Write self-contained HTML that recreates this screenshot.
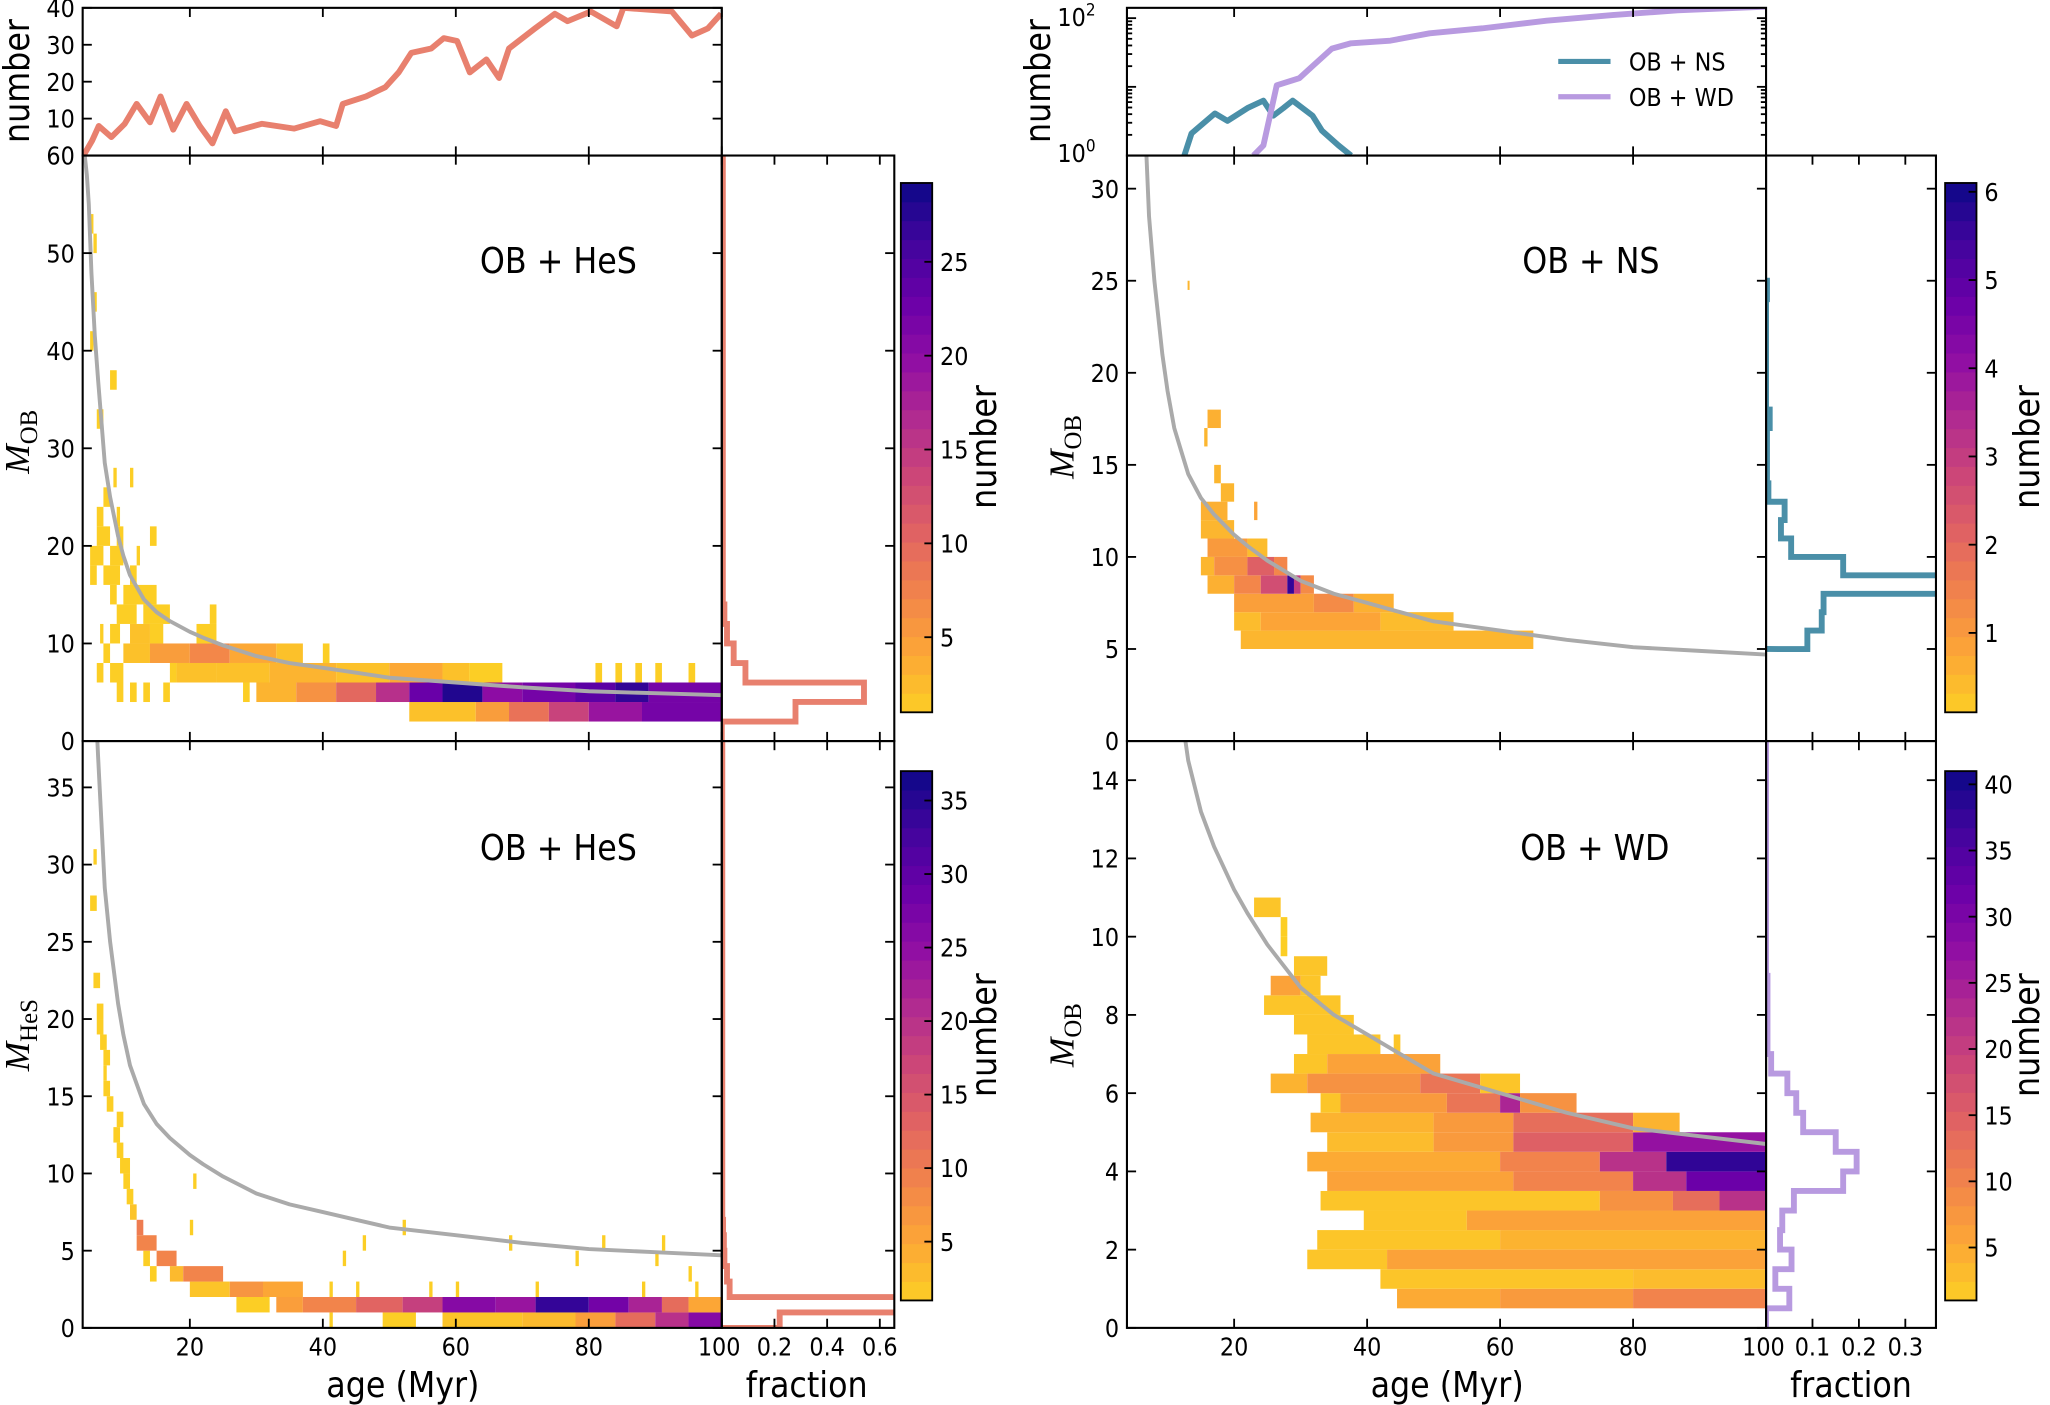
<!DOCTYPE html>
<html><head><meta charset="utf-8"><style>
html,body{margin:0;padding:0;background:#fff;}
svg{display:block;}
text{font-family:"DejaVu Sans Condensed","DejaVu Sans","Liberation Sans",sans-serif;fill:#000;}
.ser{font-family:"Liberation Serif","DejaVu Serif",serif;font-style:italic;}
</style></head><body>
<svg id="fig" width="2050" height="1405" viewBox="0 0 1568 1075" xmlns="http://www.w3.org/2000/svg">
<defs>
<clipPath id="cTL"><rect x="63" y="119" width="489" height="448"/></clipPath>
<clipPath id="cBL"><rect x="63" y="567" width="489" height="449"/></clipPath>
<clipPath id="cTR"><rect x="862" y="119" width="489" height="448"/></clipPath>
<clipPath id="cBR"><rect x="862" y="567" width="489" height="449"/></clipPath>
<clipPath id="cTLt"><rect x="63" y="6" width="489" height="113"/></clipPath>
<clipPath id="cTRt"><rect x="862" y="6" width="489" height="113"/></clipPath>
<clipPath id="hTL"><rect x="552" y="119" width="132" height="448"/></clipPath>
<clipPath id="hBL"><rect x="552" y="567" width="132" height="449"/></clipPath>
<clipPath id="hTR"><rect x="1351" y="119" width="130" height="448"/></clipPath>
<clipPath id="hBR"><rect x="1351" y="567" width="130" height="449"/></clipPath>
</defs>
<g id="layer"></g>
</svg>
<script>
// ---------- data ----------
const hesAges = [4,5.3,6.3,8.2,10.2,12,14,15.6,17.5,19.5,21.5,23.4,25.4,26.8,30.8,35.7,39.6,42,43,46.5,49.4,51.4,53.3,56.3,58.2,60.2,62.1,64.6,66.5,68,71.9,74.9,76.8,80.3,84.2,85.2,92.5,95.5,97.9,99.9];
const hesCounts = [0,4,8,5,8.6,14,9,16,7,14,8,3.3,12,6.6,8.6,7.3,9.3,8,14,16,18.5,22.5,27.8,29,31.8,31,22.5,26,21,29,34.4,38.4,36.4,39,35,40,39,32.5,34.4,38.4];
const nsAges = [12.5,13.6,17.1,19.0,22.0,24.4,25.9,27.4,28.8,31.8,33.2,35.7,37.6];
const nsCounts = [1,2.1,4.1,3.2,4.9,6.3,3.8,4.9,6.3,3.8,2.3,1.4,1];
const wdAges = [22.9,24.4,26.4,29.8,31.8,34.7,37.6,43.5,49.4,57.3,67,76.9,86.7,99.9];
const wdCounts = [1,1.4,10.5,13.4,20,36,43,47,60,71,92,111,130,147];
const curveAges = [4.2,4.5,4.8,5.2,5.7,6.2,7.2,8,9.2,10,11,12,13.1,15,17,20,22,25,30,35,40,45,50,60,70,80,90,100];
const curveMass = [60,58,55,48,41.5,37,28.5,25,21,19,17,15.8,14.5,13.2,12.3,11.2,10.6,9.8,8.7,8.0,7.5,7.0,6.5,6.0,5.5,5.1,4.9,4.7];
// heatmap cells: [m0, m1, age0, age1, count]
const tlCells = [[2,4,53,63,2],[2,4,63,68,5],[2,4,68,74,9],[2,4,74,80,14],[2,4,80,88,19],[2,4,88,100,22],
[4,6,9,10,1],[4,6,11,12,1],[4,6,13,14,1],[4,6,16,17,1],[4,6,28,29,1],[4,6,30,36,3],[4,6,36,42,6],[4,6,42,48,10],[4,6,48,53,16],[4,6,53,58,23],[4,6,58,64,28],[4,6,64,70,20],[4,6,70,78,22],[4,6,78,84,24],[4,6,84,89,27],[4,6,89,100,22],
[6,8,6,7,1],[6,8,8,10,1],[6,8,17,18,1],[6,8,18,24,2],[6,8,24,32,2],[6,8,32,42,3],[6,8,42,50,2],[6,8,50,58,4],[6,8,58,62,2],[6,8,62,67,1],[6,8,81,82,1],[6,8,84,85,1],[6,8,87,88,1],[6,8,90,91,1],[6,8,95,96,1],
[8,10,7,8,1],[8,10,10,14,2],[8,10,14,20,5],[8,10,20,26,7],[8,10,26,33,4],[8,10,33,37,2],[8,10,40,41,1],
[10,12,6.5,7,1],[10,12,8,9.5,1],[10,12,11,14,2],[10,12,14,16,1],[10,12,21,24,1],
[12,14,9,12,1],[12,14,13,17,1],[12,14,23,24,1],[14,16,8,9,1],[14,16,10,15,1],
[16,18,5,6,1],[16,18,7,9.5,1],[16,18,11,12,1],[18,20,5,7,1],[18,20,8,10,1],[18,20,12,12.5,1],
[20,22,6,8,1],[20,22,9,10,1],[20,22,14,15,1],[22,24,6,7,1],[22,24,9,9.5,1],
[24,26,7,8,1],[26,28,8.5,9,1],[26,28,11,11.5,1],[32,34,6,7,1],[36,38,8,9,1],[40,42,5,5.5,1],[44,46,5.5,6,1],[50,52,5.5,6,1],[52,54,5,5.5,1]];
const blCells = [[0,1,41,41.5,1],[0,1,49,54,1],[0,1,58,70,2],[0,1,70,78,3],[0,1,78,84,6],[0,1,84,90,12],[0,1,90,95,20],[0,1,95,100,26],
[1,2,27,32,1],[1,2,33,37,6],[1,2,37,45,9],[1,2,45,52,13],[1,2,52,58,18],[1,2,58,66,26],[1,2,66,72,24],[1,2,72,80,34],[1,2,80,86,28],[1,2,86,91,22],[1,2,91,95,12],[1,2,95,100,5],
[2,3,20,26,2],[2,3,26,31,7],[2,3,31,37,5],[2,3,41,41.5,1],[2,3,45,45.5,1],[2,3,56,56.5,1],[2,3,60,60.5,1],[2,3,72,72.5,1],[2,3,88,88.5,1],[2,3,96,96.5,1],
[3,4,14,15,1],[3,4,17,19,3],[3,4,19,25,9],[3,4,95,95.5,1],
[4,5,13,14,1],[4,5,15,18,9],[4,5,43,43.5,1],[4,5,78,78.5,1],[4,5,90,90.5,1],
[5,6,12,15,9],[5,6,46,46.5,1],[5,6,68,68.5,1],[5,6,82,82.5,1],[5,6,91,91.5,1],
[6,7,12,13,10],[6,7,20,20.5,1],[6,7,52,52.5,1],
[7,8,11,12,2],[8,9,10.5,11.5,1],[9,10,10,11,1],[9,10,20.5,21,1],[10,11,9.5,11,1],[11,12,9,10,1],[12,13,8.5,9.5,1],[13,14,9,10,1],[14,15,7.5,8.5,1],[15,16,7,8,1],[16,17,7,7.5,1],[17,18,7,8,1],[18,19,6.5,7.5,1],[19,20,6,7,1],[20,21,6,7,1],[22,23,5.5,6.5,1],[27,28,5,6,1],[30,31,5.5,6,1]];
const trCells = [[5,6,21,65,0.5],[6,7,20,24,0.4],[6,7,24,42,0.8],[6,7,42,53,0.4],
[7,8,20,32,0.9],[7,8,32,38,1.3],[7,8,38,44,0.6],
[8,9,16,20,0.6],[8,9,20,24,1.4],[8,9,24,28,2.6],[8,9,28,29,5.6],[8,9,29,30,3],[8,9,30,32,1.3],
[9,10,15,17,0.5],[9,10,17,22,1.2],[9,10,22,26,2.2],[9,10,26,28,1.4],
[10,11,16,22,1.0],[10,11,22,25,0.4],[11,12,15,20,0.5],[12,13,15,19,0.6],[12,13,23,23.5,0.8],[13,14,18,20,0.5],[14,15,17,18,0.5],[16,17,15.5,16,0.5],[17,18,16,18,0.6],[24.5,25,13,13.3,0.5]];
const brCells = [[0.5,1,44.5,60,5],[0.5,1,60,80,7],[0.5,1,80,100,10],
[1,1.5,42,80,2],[1,1.5,80,100,3],
[1.5,2,31,43,2],[1.5,2,43,100,6],
[2,2.5,32.5,60,2],[2,2.5,60,100,4],
[2.5,3,39.5,55,2],[2.5,3,55,100,6],
[3,3.5,33,75,2],[3,3.5,75,86,8],[3,3.5,86,93,13],[3,3.5,93,100,22],
[3.5,4,34,62,6],[3.5,4,62,80,10],[3.5,4,80,88,22],[3.5,4,88,100,32],
[4,4.5,31,60,5],[4,4.5,60,75,10],[4,4.5,75,85,22],[4,4.5,85,100,38],
[4.5,5,34,50,3],[4.5,5,50,62,7],[4.5,5,62,80,15],[4.5,5,80,100,27],
[5,5.5,31.5,50,4],[5,5.5,50,62,7],[5,5.5,62,80,13],[5,5.5,80,87,4],
[5.5,6,33,36,2],[5.5,6,36,52,7],[5.5,6,52,60,12],[5.5,6,60,63,24],[5.5,6,63,71.5,8],
[6,6.5,25.5,31,4],[6,6.5,31,48,8],[6,6.5,48,57,12],[6,6.5,57,63,2],
[6.5,7,29,34,2],[6.5,7,34,51,6],[7,7.5,31,42,2],[7,7.5,44,45,2],[7.5,8,29,38,2],[8,8.5,24.5,36,2],[8.5,9,25.5,30,6],[8.5,9,30,33,2],[9,9.5,29,34,2],[9.5,10,27,28,1],[10,10.5,27,28,1],[10.5,11,23,27,2]];
// marginal histograms
const tlHistEdges = [0,2,4,6,8,10,12,14,60];
const tlHistFrac = [0,0.28,0.54,0.09,0.045,0.02,0.01,0.004];
const blHistEdges = [0,1,2,3,4,5,6,7,38];
const blHistFrac = [0.22,0.9,0.03,0.02,0.01,0.008,0.005,0.002];
const trHistEdges = [5,6,7,8,9,10,11,12,13,14,17,18,24,25];
const trHistFrac = [0.089,0.12,0.124,0.4,0.166,0.054,0.032,0.04,0.005,0.002,0.008,0,0.002];
const brHistEdges = [0,0.5,1,1.5,2,2.5,3,3.5,4,4.5,5,5.5,6,6.5,7,9,15];
const brHistFrac = [0,0.05,0.02,0.055,0.03,0.035,0.06,0.166,0.195,0.15,0.08,0.065,0.046,0.011,0.003,0];

// ---------- helpers ----------
const NS='http://www.w3.org/2000/svg';
const L=document.getElementById('layer');
function mk(tag,attrs,parent){const e=document.createElementNS(NS,tag);for(const k in attrs)e.setAttribute(k,attrs[k]);(parent||L).appendChild(e);return e;}
function txt(s,x,y,size,anchor,extra){const e=mk('text',Object.assign({x:x,y:y,'font-size':size,'text-anchor':anchor||'middle'},extra||{}));e.textContent=s;return e;}
const plasma=[[13,8,135],[65,4,157],[106,0,168],[143,13,164],[177,42,144],[204,71,120],[225,100,98],[242,132,75],[252,166,54],[252,206,37]];
function cmap(t){t=Math.max(0,Math.min(1,t));const p=(1-t)*9;const i=Math.min(8,Math.floor(p));const f=p-i;const a=plasma[i],b=plasma[i+1];return 'rgb('+a.map((v,k)=>Math.round(v+(b[k]-v)*f)).join(',')+')';}
const axL={x0:63,x1:552}, axR={x0:862,x1:1351};
function ageX(ax,a){return ax.x0+(a-3.88)*(ax.x1-ax.x0)/(100-3.88);}
function lin(y0,y1,d0,d1){return v=>y0+(v-d0)*(y1-y0)/(d1-d0);}
const tlY=lin(567,119,0,60), blY=lin(1016,567,0,38), trY=lin(567,119,0,31.8), brY=lin(1016,567,0,15);
const tltY=lin(119,6,0,40), trtY=v=>119-(Math.log10(v))*(113/2.15);
const hL=lin(552,684,0,0.655), hR=lin(1351,1481,0,0.366);

function heat(cells,ax,Y,vmin,vmax,clip,name){
  const g=mk('g',{'clip-path':'url(#'+clip+')'});
  
  
  cells.forEach(c=>{const x0=ageX(ax,c[2]),x1=ageX(ax,c[3]);const y0=Y(c[1]),y1=Y(c[0]);
    const r=mk('rect',{x:x0,y:y0,width:Math.max(1.2,x1-x0),height:y1-y0,fill:cmap((c[4]-vmin)/(vmax-vmin))},g);
    
    });
}
function curve(ax,Y,clip){
  let d='';curveAges.forEach((a,i)=>{d+=(i?'L':'M')+ageX(ax,a).toFixed(1)+','+Y(curveMass[i]).toFixed(1);});
  const p=mk('path',{d:d,fill:'none',stroke:'#aaaaaa','stroke-width':3,'clip-path':'url(#'+clip+')','stroke-linejoin':'round'});
  
  
}
function series(ax,xs,ys,Y,color,clip,name){
  let d='';xs.forEach((a,i)=>{d+=(i?'L':'M')+ageX(ax,a).toFixed(1)+','+Y(ys[i]).toFixed(1);});
  const p=mk('path',{d:d,fill:'none',stroke:color,'stroke-width':4.5,'clip-path':'url(#'+clip+')','stroke-linejoin':'round'});
  
  
}
function hist(edges,fr,H,Y,color,clip,name){
  let d='M'+H(0)+','+Y(edges[0]);
  fr.forEach((f,i)=>{d+='L'+H(f).toFixed(1)+','+Y(edges[i]).toFixed(1)+'L'+H(f).toFixed(1)+','+Y(edges[i+1]).toFixed(1);});
  d+='L'+H(0)+','+Y(edges[edges.length-1]);
  const p=mk('path',{d:d,fill:'none',stroke:color,'stroke-width':4.5,'clip-path':'url(#'+clip+')'});
  
  
}
function frame(x,y,w,h,name){const r=mk('rect',{x:x,y:y,width:w,height:h,fill:'none',stroke:'#000','stroke-width':1.6});
  
  }
function tick(x1,y1,x2,y2){mk('line',{x1:x1,y1:y1,x2:x2,y2:y2,stroke:'#000','stroke-width':1.4});}
function yticks(vals,Y,x0,x1,labels,len){vals.forEach((v,i)=>{const y=Y(v);tick(x0,y,x0+len,y);tick(x1,y,x1-len,y);
  if(labels&&labels[i]!==null){const t=txt(labels[i],x0-6,y+7,19,'end');}});}
function xticks(ax,y0,y1,labels){[20,40,60,80,100].forEach(a=>{const x=ageX(ax,a);tick(x,y0,x,y0+7);tick(x,y1,x,y1-7);});
  if(labels)[20,40,60,80,100].forEach(a=>{const t=txt(String(a),ageX(ax,a)-(a===100?2:0),1037,19,'middle');});}
function colorbar(x,y0,y1,vmin,vmax,tickv,name){
  const g=mk('g',{});
  const n=28;for(let i=0;i<n;i++){const h=(y1-y0)/n;mk('rect',{x:x,y:y1-(i+1)*h-0.3,width:24,height:h+0.6,fill:cmap((i+0.5)/n)},g);}
  mk('rect',{x:x,y:y0,width:24,height:y1-y0,fill:'none',stroke:'#000','stroke-width':1.4},g);
  const Y=lin(y1,y0,vmin,vmax);
  tickv.forEach(v=>{const y=Y(v);tick(x+24,y,x+18,y);const t=txt(String(v),x+30,y+7,19,'start');});
}
function rot(s,x,y,size,name,cls){const t=mk('text',{x:0,y:0,'font-size':size,'text-anchor':'middle',transform:'translate('+x+','+y+') rotate(-90)'});if(cls)t.setAttribute('class',cls);t.textContent=s;
  return t;}

// ---------- heatmaps & curves ----------
heat(tlCells,axL,tlY,1,29.2,'cTL','heatmap-ob-hes-mob');
heat(blCells,axL,blY,1,37,'cBL','heatmap-ob-hes-mhes');
heat(trCells,axR,trY,0.1,6.1,'cTR','heatmap-ob-ns');
heat(brCells,axR,brY,1,41,'cBR','heatmap-ob-wd');
curve(axL,tlY,'cTL');curve(axL,blY,'cBL');curve(axR,trY,'cTR');curve(axR,brY,'cBR');
series(axL,hesAges,hesCounts,tltY,'#e8806e','cTLt','ob-hes-number-line');
series(axR,nsAges,nsCounts,trtY,'#4a8fa8','cTRt','ob-ns-number-line');
series(axR,wdAges,wdCounts,trtY,'#b89ae0','cTRt','ob-wd-number-line');
hist(tlHistEdges,tlHistFrac,hL,tlY,'#e8806e','hTL','hist-ob-hes-mob');
hist(blHistEdges,blHistFrac,hL,blY,'#e8806e','hBL','hist-ob-hes-mhes');
hist(trHistEdges,trHistFrac,hR,trY,'#4a8fa8','hTR','hist-ob-ns');
hist(brHistEdges,brHistFrac,hR,brY,'#b89ae0','hBR','hist-ob-wd');

// ---------- frames & ticks ----------
frame(63,6,489,113,'top-left-number-panel');frame(63,119,489,448,'top-left-main-panel');frame(63,567,489,449,'bottom-left-main-panel');
frame(552,119,132,448,'top-left-hist-panel');frame(552,567,132,449,'bottom-left-hist-panel');
frame(862,6,489,113,'top-right-number-panel');frame(862,119,489,448,'top-right-main-panel');frame(862,567,489,449,'bottom-right-main-panel');
frame(1351,119,130,448,'top-right-hist-panel');frame(1351,567,130,449,'bottom-right-hist-panel');
yticks([10,20,30,40],tltY,63,552,['10','20','30','40'],7);
yticks([0,10,20,30,40,50,60],tlY,63,552,['0','10','20','30','40','50','60'],7);
yticks([0,5,10,15,20,25,30,35],blY,63,552,['0','5','10','15','20','25','30','35'],7);
yticks([0,5,10,15,20,25,30],trY,862,1351,['0','5','10','15','20','25','30'],7);
yticks([0,2,4,6,8,10,12,14],brY,862,1351,['0','2','4','6','8','10','12','14'],7);
[0,10,20,30,40,50,60].forEach(v=>{tick(684,tlY(v),677,tlY(v));});
[5,10,15,20,25,30,35].forEach(v=>{tick(684,blY(v),677,blY(v));});
[5,10,15,20,25,30].forEach(v=>{tick(1481,trY(v),1474,trY(v));});
[2,4,6,8,10,12,14].forEach(v=>{tick(1481,brY(v),1474,brY(v));});
// log ticks
[1,10,100].forEach(v=>{tick(862,trtY(v),869,trtY(v));tick(1351,trtY(v),1344,trtY(v));});
[2,3,4,5,6,7,8,9,20,30,40,50,60,70,80,90].forEach(v=>{tick(862,trtY(v),866,trtY(v));tick(1351,trtY(v),1347,trtY(v));});
xticks(axL,6,119,false);xticks(axL,119,567,false);xticks(axL,567,1016,true);
xticks(axR,6,119,false);xticks(axR,119,567,false);xticks(axR,567,1016,true);
[0.2,0.4,0.6].forEach(f=>{const x=hL(f);[119,567].forEach(y=>tick(x,y,x,y+7));[567,1016].forEach(y=>tick(x,y,x,y-7));
  const t=txt(String(f),x,1037,19);});
[0.1,0.2,0.3].forEach(f=>{const x=hR(f);[119,567].forEach(y=>tick(x,y,x,y+7));[567,1016].forEach(y=>tick(x,y,x,y-7));
  const t=txt(String(f),x,1037,19);});
// log labels
[[1,'0',124],[100,'2',20]].forEach(a=>{const t=mk('text',{x:838,y:a[2],'font-size':19,'text-anchor':'end'});t.textContent='10';
  const s=mk('tspan',{dy:-8,'font-size':13},t);s.textContent=a[1];
  });

// ---------- colorbars ----------
colorbar(689,140,545,1,29.2,[5,10,15,20,25],'colorbar-top-left');
colorbar(689,590,995,1,37,[5,10,15,20,25,30,35],'colorbar-bottom-left');
colorbar(1488,140,545,0.1,6.1,[1,2,3,4,5,6],'colorbar-top-right');
colorbar(1488,590,995,1,41,[5,10,15,20,25,30,35,40],'colorbar-bottom-right');

// ---------- labels ----------
rot('number',22,62,27,'top-left-y-label');rot('number',803,62,27,'top-right-y-label');
rot('number',762,342,27,'colorbar-label');rot('number',762,792,27,'colorbar-label');
rot('number',1560,342,27,'colorbar-label');rot('number',1560,792,27,'colorbar-label');
[['OB','tlm',338],['HeS','blm',792]].forEach(a=>{const t=mk('text',{x:0,y:0,'font-size':27,'text-anchor':'middle',transform:'translate(22,'+(a[2])+') rotate(-90)'});t.setAttribute('class','ser');
  t.textContent='M';const s=mk('tspan',{dy:6,'font-size':19,'font-style':'normal'},t);s.textContent=a[0];
  });
[['OB',342],['OB',792]].forEach(a=>{const t=mk('text',{x:0,y:0,'font-size':27,'text-anchor':'middle',transform:'translate(821,'+a[1]+') rotate(-90)'});t.setAttribute('class','ser');
  t.textContent='M';const s=mk('tspan',{dy:6,'font-size':19,'font-style':'normal'},t);s.textContent=a[0];
  });
[['OB + HeS',427,209],['OB + HeS',427,658],['OB + NS',1217,209],['OB + WD',1220,658]].forEach(a=>{const t=txt(a[0],a[1],a[2],27);});
[['age (Myr)',308],['age (Myr)',1107],['fraction',617],['fraction',1416]].forEach(a=>{const t=txt(a[0],a[1],1069,27);});
// legend
[['OB + NS','#4a8fa8',47],['OB + WD','#b89ae0',74]].forEach(a=>{
  const g=mk('g',{});
  mk('line',{x1:1192,y1:a[2],x2:1232,y2:a[2],stroke:a[1],'stroke-width':4},g);
  const t=mk('text',{x:1246,y:a[2]+7,'font-size':19},g);t.textContent=a[0];});
</script>
</body></html>
